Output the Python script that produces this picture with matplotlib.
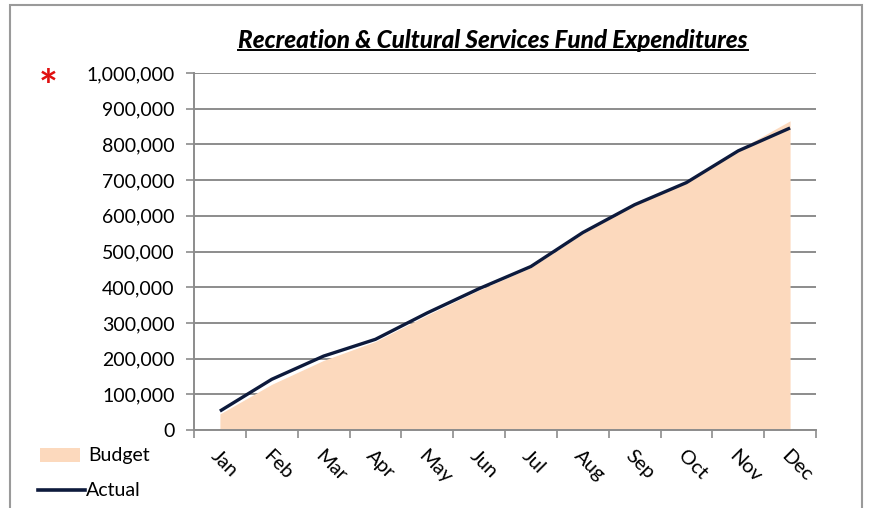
import matplotlib
matplotlib.use("Agg")
import matplotlib.pyplot as plt
from matplotlib.lines import Line2D
from matplotlib.patches import Rectangle
from matplotlib.ticker import FuncFormatter, MultipleLocator
import numpy as np

months = ['Jan', 'Feb', 'Mar', 'Apr', 'May', 'Jun',
          'Jul', 'Aug', 'Sep', 'Oct', 'Nov', 'Dec']
budget = [45000, 128000, 195000, 248000, 322000, 392000,
          455000, 550000, 630000, 696000, 785000, 866000]
actual = [53000, 142000, 207000, 254000, 328000, 396000,
          458000, 553000, 631000, 693000, 782000, 846000]

plt.rcParams['font.family'] = ['Lato', 'DejaVu Sans']

fill_color = '#fcd9bd'
line_color = '#0d1a3c'
grid_color = '#8c8c8c'

fig = plt.figure(figsize=(8.72, 5.08), dpi=100)
ax = fig.add_axes([194 / 872, 1 - 430 / 508, (816 - 194) / 872, (430 - 73) / 508])

x = np.arange(len(months))
ax.fill_between(x, budget, 0, color=fill_color, lw=0, zorder=1)
ax.plot(x, actual, color=line_color, lw=2.4, solid_capstyle='butt', zorder=3)

ax.set_xlim(-0.5, 11.5)
ax.set_ylim(0, 1000000)
ax.yaxis.set_major_locator(MultipleLocator(100000))
ax.yaxis.set_major_formatter(FuncFormatter(lambda v, p: f'{int(v):,}'))
ax.grid(axis='y', color=grid_color, lw=1.4, zorder=0)
ax.set_axisbelow(True)

ax.set_xticks(np.arange(-0.5, 12, 1))
ax.set_xticklabels([])
ax.set_xticks(x, minor=True)
ax.set_xticklabels(months, minor=True, rotation=-45, ha='left', va='top',
                   rotation_mode='anchor', fontsize=14.5)
ax.tick_params(axis='x', which='minor', length=0, pad=12)
ax.tick_params(axis='x', which='major', length=6, width=1.2, color=grid_color, direction='out')
ax.tick_params(axis='y', length=6, width=1.2, color=grid_color, direction='out',
               labelsize=14, pad=8)

for side in ['top', 'right']:
    ax.spines[side].set_visible(False)
ax.spines['left'].set_color(grid_color)
ax.spines['bottom'].set_color(grid_color)
ax.spines['left'].set_linewidth(1.4)
ax.spines['bottom'].set_linewidth(1.4)

# outer chart border
fig.add_artist(Rectangle((10 / 872, -0.02), 852 / 872, 1 - 5 / 508 + 0.02,
                         transform=fig.transFigure, fill=False,
                         ec='#9a9a9a', lw=1.5))

title = fig.text(493 / 872, 1 - 40 / 508, 'Recreation & Cultural Services Fund Expenditures',
                 ha='center', va='center', fontsize=17.5, fontweight='black',
                 fontstyle='italic')
fig.canvas.draw()
bb = title.get_window_extent().transformed(fig.transFigure.inverted())
fig.add_artist(Line2D([bb.x0, bb.x1], [bb.y0 + 0.002, bb.y0 + 0.002],
                      transform=fig.transFigure, color='black', lw=1.4))

fig.text(48 / 872, 1 - 88 / 508, '*', color='#e01010', fontsize=32,
         fontweight='bold', ha='center', va='center')

# legend
fig.add_artist(Rectangle((40 / 872, 1 - 462 / 508), 40 / 872, 14 / 508,
                         transform=fig.transFigure, color=fill_color, lw=0))
fig.text(88 / 872, 1 - 455 / 508, 'Budget', fontsize=14, va='center', ha='left')
fig.add_artist(Line2D([38 / 872, 85 / 872], [1 - 490 / 508, 1 - 490 / 508],
                      transform=fig.transFigure, color=line_color, lw=2.6))
fig.text(86 / 872, 1 - 490 / 508, 'Actual', fontsize=14, va='center', ha='left')

fig.savefig('out.png', dpi=100)
